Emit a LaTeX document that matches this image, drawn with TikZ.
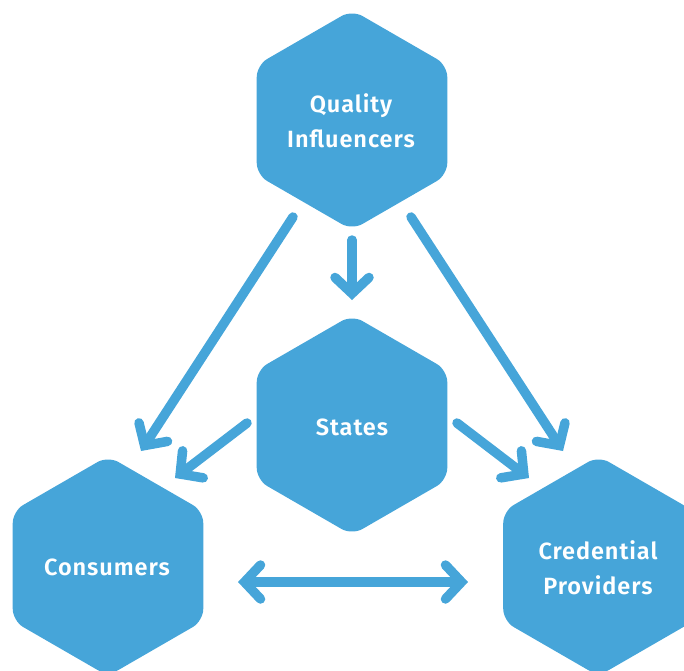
\documentclass[tikz,border=0pt]{standalone}
\usepackage{fontspec}
\setmainfont{Fira Sans}[BoldFont={Fira Sans SemiBold}]
\usetikzlibrary{arrows.meta}
\definecolor{hexblue}{HTML}{46A5D9}
\newcommand\hexshape[1]{\fill[hexblue, rounded corners=12pt] (#1) +(90:110) -- +(150:110) -- +(210:110) -- +(270:110) -- +(330:110) -- +(30:110) -- cycle;}
\tikzset{
  hexlabel/.style={text=white, font=\fontsize{23.5}{35}\selectfont\bfseries\addfontfeatures{LetterSpace=4}, align=center, inner sep=0pt},
  arr/.style={draw=hexblue, line width=9.5pt, line cap=round,
    -{Straight Barb[length=16pt,width=34pt,line cap=round,line join=miter]}},
  darr/.style={draw=hexblue, line width=9.5pt, line cap=round,
    {Straight Barb[length=16pt,width=34pt,line cap=round,line join=miter]}-{Straight Barb[length=16pt,width=34pt,line cap=round,line join=miter]}}
}
\begin{document}
\begin{tikzpicture}[x=1pt,y=-1pt]
\clip (0,0) rectangle (684,670);
\useasboundingbox (0,0) rectangle (684,670);
% hexagons
\coordinate (qc) at (352,120);
\coordinate (sc) at (352,425);
\coordinate (cc) at (108,566);
\coordinate (pc) at (598.5,566);
\hexshape{qc}
\hexshape{sc}
\hexshape{cc}
\hexshape{pc}
\node[hexlabel] (q) at (351,121) {Quality\\Influencers};
\node[hexlabel] (s) at (352,427) {States};
\node[hexlabel] (c) at (107,567) {Consumers};
\node[hexlabel] (p) at (598,568) {Credential\\Providers};
% arrow ends
\coordinate (qs1) at (352,240);
\coordinate (qs2) at (352,300);
\coordinate (qc1) at (293,217);
\coordinate (qc2) at (141,451);
\coordinate (qp1) at (411,217);
\coordinate (qp2) at (563,451);
\coordinate (sc1) at (247,423);
\coordinate (sc2) at (175,478);
\coordinate (sp1) at (457,423);
\coordinate (sp2) at (529,478);
\coordinate (cp1) at (238,582);
\coordinate (cp2) at (468,582);
\draw[arr] (qs1) -- (qs2);
\draw[arr] (qc1) -- (qc2);
\draw[arr] (qp1) -- (qp2);
\draw[arr] (sc1) -- (sc2);
\draw[arr] (sp1) -- (sp2);
\draw[darr] (cp1) -- (cp2);
\end{tikzpicture}
\end{document}
